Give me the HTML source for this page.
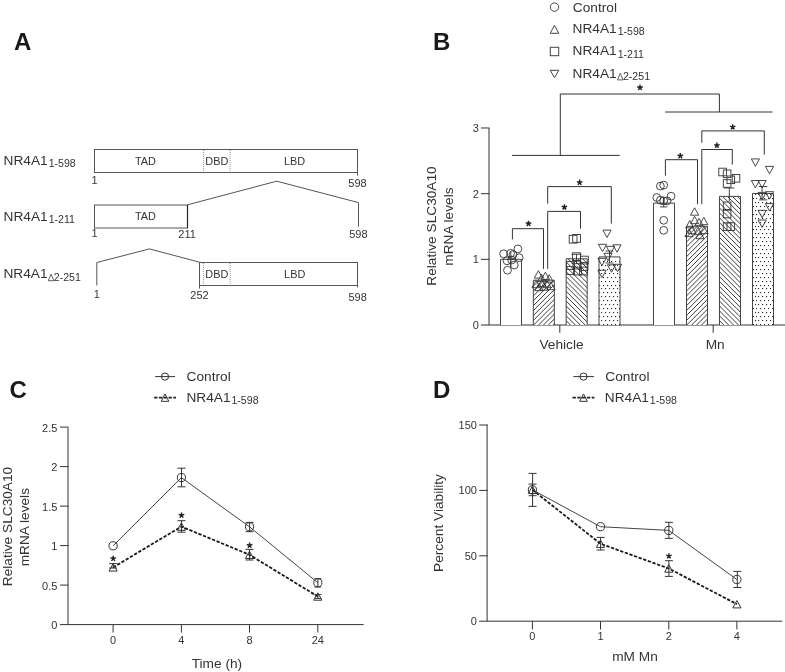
<!DOCTYPE html>
<html><head><meta charset="utf-8"><style>
html,body{margin:0;padding:0;background:#fff;}
svg{display:block;filter:grayscale(1);}

</style></head><body>
<svg width="785" height="672" viewBox="0 0 785 672" font-family='"Liberation Sans", sans-serif'>
<defs></defs>
<rect x="0" y="0" width="785" height="672" fill="#fff"/>
<text x="14.00" y="50.00" font-size="24" text-anchor="start" font-weight="bold" fill="#1a1a1a" >A</text>
<text x="3.60" y="164.70" font-size="13.7" fill="#333">NR4A1</text>
<text x="48.66" y="166.90" font-size="10.6" fill="#333">1-598</text>
<text x="3.60" y="221.00" font-size="13.7" fill="#333">NR4A1</text>
<text x="48.66" y="223.20" font-size="10.6" fill="#333">1-211</text>
<text x="3.40" y="278.40" font-size="13.7" fill="#333">NR4A1</text>
<polygon points="48.26,280.70 53.86,280.70 51.06,274.10" fill="none" stroke="#444" stroke-width="0.85"/>
<text x="53.76" y="280.60" font-size="10.6" fill="#333">2-251</text>
<rect x="94.5" y="149.5" width="263" height="23" fill="none" stroke="#555" stroke-width="1"/>
<line x1="203.60" y1="150.00" x2="203.60" y2="172.00" stroke="#888" stroke-width="0.9" stroke-dasharray="1 1"/>
<line x1="230.10" y1="150.00" x2="230.10" y2="172.00" stroke="#888" stroke-width="0.9" stroke-dasharray="1 1"/>
<line x1="357.50" y1="172.50" x2="357.50" y2="175.50" stroke="#555" stroke-width="1" />
<text x="145.40" y="164.50" font-size="10.9" text-anchor="middle" font-weight="normal" fill="#333" >TAD</text>
<text x="216.80" y="164.50" font-size="10.9" text-anchor="middle" font-weight="normal" fill="#333" >DBD</text>
<text x="294.60" y="164.50" font-size="10.9" text-anchor="middle" font-weight="normal" fill="#333" >LBD</text>
<text x="94.50" y="184.00" font-size="11" text-anchor="middle" font-weight="normal" fill="#333" >1</text>
<text x="357.50" y="187.40" font-size="11" text-anchor="middle" font-weight="normal" fill="#333" >598</text>
<rect x="94.5" y="205" width="93" height="23" fill="none" stroke="#555" stroke-width="1"/>
<line x1="187.50" y1="205.00" x2="187.50" y2="228.00" stroke="#222" stroke-width="1.2" />
<text x="145.40" y="219.80" font-size="10.9" text-anchor="middle" font-weight="normal" fill="#333" >TAD</text>
<polyline points="187.50,204.80 276.70,181.20 358.50,202.60 358.50,226.70" fill="none" stroke="#555" stroke-width="1" stroke-linejoin="miter" />
<text x="94.50" y="237.30" font-size="11" text-anchor="middle" font-weight="normal" fill="#333" >1</text>
<text x="187.10" y="237.60" font-size="11" text-anchor="middle" font-weight="normal" fill="#333" >211</text>
<text x="358.40" y="238.40" font-size="11" text-anchor="middle" font-weight="normal" fill="#333" >598</text>
<polyline points="96.80,285.50 96.80,262.50 149.50,248.90 199.50,262.20" fill="none" stroke="#555" stroke-width="1" stroke-linejoin="miter" />
<rect x="199.5" y="262.5" width="158" height="23" fill="none" stroke="#555" stroke-width="1"/>
<line x1="199.50" y1="285.50" x2="199.50" y2="288.60" stroke="#555" stroke-width="1" />
<line x1="357.50" y1="285.50" x2="357.50" y2="287.50" stroke="#555" stroke-width="1" />
<line x1="203.40" y1="263.00" x2="203.40" y2="285.00" stroke="#888" stroke-width="0.9" stroke-dasharray="1 1"/>
<line x1="230.20" y1="263.00" x2="230.20" y2="285.00" stroke="#888" stroke-width="0.9" stroke-dasharray="1 1"/>
<text x="216.80" y="277.60" font-size="10.9" text-anchor="middle" font-weight="normal" fill="#333" >DBD</text>
<text x="294.70" y="277.70" font-size="10.9" text-anchor="middle" font-weight="normal" fill="#333" >LBD</text>
<text x="96.90" y="298.30" font-size="11" text-anchor="middle" font-weight="normal" fill="#333" >1</text>
<text x="199.50" y="298.60" font-size="11" text-anchor="middle" font-weight="normal" fill="#333" >252</text>
<text x="357.60" y="300.60" font-size="11" text-anchor="middle" font-weight="normal" fill="#333" >598</text>
<text x="433.00" y="50.00" font-size="24" text-anchor="start" font-weight="bold" fill="#1a1a1a" >B</text>
<circle cx="554.50" cy="7.10" r="4.2" fill="none" stroke="#444" stroke-width="1.0"/>
<polygon points="550.20,33.30 558.80,33.30 554.50,25.30" fill="none" stroke="#444" stroke-width="1.0" stroke-linejoin="miter"/>
<rect x="550.30" y="47.30" width="8.4" height="8.4" fill="none" stroke="#444" stroke-width="1.0"/>
<polygon points="550.20,70.30 558.80,70.30 554.50,77.70" fill="none" stroke="#444" stroke-width="1.0" stroke-linejoin="miter"/>
<text x="572.80" y="11.60" font-size="13.7" text-anchor="start" font-weight="normal" fill="#333" >Control</text>
<text x="572.60" y="33.00" font-size="13.7" fill="#333">NR4A1</text>
<text x="617.66" y="35.20" font-size="10.6" fill="#333">1-598</text>
<text x="572.60" y="55.30" font-size="13.7" fill="#333">NR4A1</text>
<text x="617.66" y="57.50" font-size="10.6" fill="#333">1-211</text>
<text x="572.60" y="77.60" font-size="13.7" fill="#333">NR4A1</text>
<polygon points="617.46,79.90 623.06,79.90 620.26,73.30" fill="none" stroke="#444" stroke-width="0.85"/>
<text x="622.96" y="79.80" font-size="10.6" fill="#333">2-251</text>
<line x1="489.00" y1="128.00" x2="489.00" y2="325.00" stroke="#333" stroke-width="1.0" />
<text x="478.80" y="328.95" font-size="11" text-anchor="end" font-weight="normal" fill="#333" >0</text>
<line x1="481.00" y1="259.33" x2="489.50" y2="259.33" stroke="#333" stroke-width="1.0" />
<text x="478.80" y="263.28" font-size="11" text-anchor="end" font-weight="normal" fill="#333" >1</text>
<line x1="481.00" y1="193.66" x2="489.50" y2="193.66" stroke="#333" stroke-width="1.0" />
<text x="478.80" y="197.61" font-size="11" text-anchor="end" font-weight="normal" fill="#333" >2</text>
<line x1="481.00" y1="127.99" x2="489.50" y2="127.99" stroke="#333" stroke-width="1.0" />
<text x="478.80" y="131.94" font-size="11" text-anchor="end" font-weight="normal" fill="#333" >3</text>
<line x1="481.00" y1="325.00" x2="785.00" y2="325.00" stroke="#333" stroke-width="1.0" />
<text transform="translate(435.7,226.0) rotate(-90)" font-size="13.7" text-anchor="middle" fill="#333">Relative SLC30A10</text>
<text transform="translate(453.4,226.6) rotate(-90)" font-size="13.7" text-anchor="middle" fill="#333">mRNA levels</text>
<line x1="559.80" y1="325.00" x2="559.80" y2="332.80" stroke="#333" stroke-width="1.0" />
<line x1="713.20" y1="325.00" x2="713.20" y2="332.80" stroke="#333" stroke-width="1.0" />
<text x="561.50" y="348.60" font-size="13.7" text-anchor="middle" font-weight="normal" fill="#333" >Vehicle</text>
<text x="715.20" y="348.60" font-size="13.7" text-anchor="middle" font-weight="normal" fill="#333" >Mn</text>
<clipPath id="c0"><rect x="500.50" y="259.30" width="21" height="65.70"/></clipPath>
<rect x="500.50" y="259.30" width="21" height="65.70" fill="#fff"/>
<polyline points="500.50,325.00 500.50,259.30 521.50,259.30 521.50,325.00" fill="none" stroke="#444" stroke-width="1.0" stroke-linejoin="miter" />
<clipPath id="c1"><rect x="533.33" y="280.20" width="21" height="44.80"/></clipPath>
<rect x="533.33" y="280.20" width="21" height="44.80" fill="#fff"/>
<path clip-path="url(#c1)" d="M460.13,325.00L506.93,278.20M465.03,325.00L511.83,278.20M469.93,325.00L516.73,278.20M474.83,325.00L521.63,278.20M479.73,325.00L526.53,278.20M484.63,325.00L531.43,278.20M489.53,325.00L536.33,278.20M494.43,325.00L541.23,278.20M499.33,325.00L546.13,278.20M504.23,325.00L551.03,278.20M509.13,325.00L555.93,278.20M514.03,325.00L560.83,278.20M518.93,325.00L565.73,278.20M523.83,325.00L570.63,278.20M528.73,325.00L575.53,278.20M533.63,325.00L580.43,278.20M538.53,325.00L585.33,278.20M543.43,325.00L590.23,278.20M548.33,325.00L595.13,278.20M553.23,325.00L600.03,278.20M558.13,325.00L604.93,278.20M563.03,325.00L609.83,278.20M567.93,325.00L614.73,278.20" stroke="#1a1a1a" stroke-width="0.85" fill="none"/>
<polyline points="533.33,325.00 533.33,280.20 554.33,280.20 554.33,325.00" fill="none" stroke="#444" stroke-width="1.0" stroke-linejoin="miter" />
<clipPath id="c2"><rect x="566.17" y="258.80" width="21" height="66.20"/></clipPath>
<rect x="566.17" y="258.80" width="21" height="66.20" fill="#fff"/>
<path clip-path="url(#c2)" d="M531.27,325.00L463.07,256.80M536.17,325.00L467.97,256.80M541.07,325.00L472.87,256.80M545.97,325.00L477.77,256.80M550.87,325.00L482.67,256.80M555.77,325.00L487.57,256.80M560.67,325.00L492.47,256.80M565.57,325.00L497.37,256.80M570.47,325.00L502.27,256.80M575.37,325.00L507.17,256.80M580.27,325.00L512.07,256.80M585.17,325.00L516.97,256.80M590.07,325.00L521.87,256.80M594.97,325.00L526.77,256.80M599.87,325.00L531.67,256.80M604.77,325.00L536.57,256.80M609.67,325.00L541.47,256.80M614.57,325.00L546.37,256.80M619.47,325.00L551.27,256.80M624.37,325.00L556.17,256.80M629.27,325.00L561.07,256.80M634.17,325.00L565.97,256.80M639.07,325.00L570.87,256.80M643.97,325.00L575.77,256.80M648.87,325.00L580.67,256.80M653.77,325.00L585.57,256.80M658.67,325.00L590.47,256.80M663.57,325.00L595.37,256.80M668.47,325.00L600.27,256.80" stroke="#1a1a1a" stroke-width="0.85" fill="none"/>
<polyline points="566.17,325.00 566.17,258.80 587.17,258.80 587.17,325.00" fill="none" stroke="#444" stroke-width="1.0" stroke-linejoin="miter" />
<clipPath id="c3"><rect x="599.00" y="256.90" width="21" height="68.10"/></clipPath>
<rect x="599.00" y="256.90" width="21" height="68.10" fill="#fff"/>
<g fill="#2a2a2a"><rect x="599" y="261" width="1.1" height="1.1"/><rect x="603" y="261" width="1.1" height="1.1"/><rect x="607" y="261" width="1.1" height="1.1"/><rect x="611" y="261" width="1.1" height="1.1"/><rect x="615" y="261" width="1.1" height="1.1"/><rect x="619" y="261" width="1.1" height="1.1"/><rect x="601" y="265" width="1.1" height="1.1"/><rect x="605" y="265" width="1.1" height="1.1"/><rect x="609" y="265" width="1.1" height="1.1"/><rect x="613" y="265" width="1.1" height="1.1"/><rect x="617" y="265" width="1.1" height="1.1"/><rect x="599" y="269" width="1.1" height="1.1"/><rect x="603" y="269" width="1.1" height="1.1"/><rect x="607" y="269" width="1.1" height="1.1"/><rect x="611" y="269" width="1.1" height="1.1"/><rect x="615" y="269" width="1.1" height="1.1"/><rect x="619" y="269" width="1.1" height="1.1"/><rect x="601" y="273" width="1.1" height="1.1"/><rect x="605" y="273" width="1.1" height="1.1"/><rect x="609" y="273" width="1.1" height="1.1"/><rect x="613" y="273" width="1.1" height="1.1"/><rect x="617" y="273" width="1.1" height="1.1"/><rect x="599" y="277" width="1.1" height="1.1"/><rect x="603" y="277" width="1.1" height="1.1"/><rect x="607" y="277" width="1.1" height="1.1"/><rect x="611" y="277" width="1.1" height="1.1"/><rect x="615" y="277" width="1.1" height="1.1"/><rect x="619" y="277" width="1.1" height="1.1"/><rect x="601" y="281" width="1.1" height="1.1"/><rect x="605" y="281" width="1.1" height="1.1"/><rect x="609" y="281" width="1.1" height="1.1"/><rect x="613" y="281" width="1.1" height="1.1"/><rect x="617" y="281" width="1.1" height="1.1"/><rect x="599" y="285" width="1.1" height="1.1"/><rect x="603" y="285" width="1.1" height="1.1"/><rect x="607" y="285" width="1.1" height="1.1"/><rect x="611" y="285" width="1.1" height="1.1"/><rect x="615" y="285" width="1.1" height="1.1"/><rect x="619" y="285" width="1.1" height="1.1"/><rect x="601" y="288" width="1.1" height="1.1"/><rect x="605" y="288" width="1.1" height="1.1"/><rect x="609" y="288" width="1.1" height="1.1"/><rect x="613" y="288" width="1.1" height="1.1"/><rect x="617" y="288" width="1.1" height="1.1"/><rect x="599" y="292" width="1.1" height="1.1"/><rect x="603" y="292" width="1.1" height="1.1"/><rect x="607" y="292" width="1.1" height="1.1"/><rect x="611" y="292" width="1.1" height="1.1"/><rect x="615" y="292" width="1.1" height="1.1"/><rect x="619" y="292" width="1.1" height="1.1"/><rect x="601" y="296" width="1.1" height="1.1"/><rect x="605" y="296" width="1.1" height="1.1"/><rect x="609" y="296" width="1.1" height="1.1"/><rect x="613" y="296" width="1.1" height="1.1"/><rect x="617" y="296" width="1.1" height="1.1"/><rect x="599" y="300" width="1.1" height="1.1"/><rect x="603" y="300" width="1.1" height="1.1"/><rect x="607" y="300" width="1.1" height="1.1"/><rect x="611" y="300" width="1.1" height="1.1"/><rect x="615" y="300" width="1.1" height="1.1"/><rect x="619" y="300" width="1.1" height="1.1"/><rect x="601" y="304" width="1.1" height="1.1"/><rect x="605" y="304" width="1.1" height="1.1"/><rect x="609" y="304" width="1.1" height="1.1"/><rect x="613" y="304" width="1.1" height="1.1"/><rect x="617" y="304" width="1.1" height="1.1"/><rect x="599" y="308" width="1.1" height="1.1"/><rect x="603" y="308" width="1.1" height="1.1"/><rect x="607" y="308" width="1.1" height="1.1"/><rect x="611" y="308" width="1.1" height="1.1"/><rect x="615" y="308" width="1.1" height="1.1"/><rect x="619" y="308" width="1.1" height="1.1"/><rect x="601" y="312" width="1.1" height="1.1"/><rect x="605" y="312" width="1.1" height="1.1"/><rect x="609" y="312" width="1.1" height="1.1"/><rect x="613" y="312" width="1.1" height="1.1"/><rect x="617" y="312" width="1.1" height="1.1"/><rect x="599" y="316" width="1.1" height="1.1"/><rect x="603" y="316" width="1.1" height="1.1"/><rect x="607" y="316" width="1.1" height="1.1"/><rect x="611" y="316" width="1.1" height="1.1"/><rect x="615" y="316" width="1.1" height="1.1"/><rect x="619" y="316" width="1.1" height="1.1"/><rect x="601" y="320" width="1.1" height="1.1"/><rect x="605" y="320" width="1.1" height="1.1"/><rect x="609" y="320" width="1.1" height="1.1"/><rect x="613" y="320" width="1.1" height="1.1"/><rect x="617" y="320" width="1.1" height="1.1"/><rect x="599" y="324" width="1.1" height="1.1"/><rect x="603" y="324" width="1.1" height="1.1"/><rect x="607" y="324" width="1.1" height="1.1"/><rect x="611" y="324" width="1.1" height="1.1"/><rect x="615" y="324" width="1.1" height="1.1"/><rect x="619" y="324" width="1.1" height="1.1"/></g>
<polyline points="599.00,325.00 599.00,256.90 620.00,256.90 620.00,325.00" fill="none" stroke="#444" stroke-width="1.0" stroke-linejoin="miter" />
<clipPath id="c4"><rect x="653.50" y="203.10" width="21" height="121.90"/></clipPath>
<rect x="653.50" y="203.10" width="21" height="121.90" fill="#fff"/>
<polyline points="653.50,325.00 653.50,203.10 674.50,203.10 674.50,325.00" fill="none" stroke="#444" stroke-width="1.0" stroke-linejoin="miter" />
<clipPath id="c5"><rect x="686.50" y="226.30" width="21" height="98.70"/></clipPath>
<rect x="686.50" y="226.30" width="21" height="98.70" fill="#fff"/>
<path clip-path="url(#c5)" d="M559.40,325.00L660.10,224.30M564.30,325.00L665.00,224.30M569.20,325.00L669.90,224.30M574.10,325.00L674.80,224.30M579.00,325.00L679.70,224.30M583.90,325.00L684.60,224.30M588.80,325.00L689.50,224.30M593.70,325.00L694.40,224.30M598.60,325.00L699.30,224.30M603.50,325.00L704.20,224.30M608.40,325.00L709.10,224.30M613.30,325.00L714.00,224.30M618.20,325.00L718.90,224.30M623.10,325.00L723.80,224.30M628.00,325.00L728.70,224.30M632.90,325.00L733.60,224.30M637.80,325.00L738.50,224.30M642.70,325.00L743.40,224.30M647.60,325.00L748.30,224.30M652.50,325.00L753.20,224.30M657.40,325.00L758.10,224.30M662.30,325.00L763.00,224.30M667.20,325.00L767.90,224.30M672.10,325.00L772.80,224.30M677.00,325.00L777.70,224.30M681.90,325.00L782.60,224.30M686.80,325.00L787.50,224.30M691.70,325.00L792.40,224.30M696.60,325.00L797.30,224.30M701.50,325.00L802.20,224.30M706.40,325.00L807.10,224.30M711.30,325.00L812.00,224.30M716.20,325.00L816.90,224.30M721.10,325.00L821.80,224.30" stroke="#1a1a1a" stroke-width="0.85" fill="none"/>
<polyline points="686.50,325.00 686.50,226.30 707.50,226.30 707.50,325.00" fill="none" stroke="#444" stroke-width="1.0" stroke-linejoin="miter" />
<clipPath id="c6"><rect x="719.50" y="196.40" width="21" height="128.60"/></clipPath>
<rect x="719.50" y="196.40" width="21" height="128.60" fill="#fff"/>
<path clip-path="url(#c6)" d="M684.60,325.00L554.00,194.40M689.50,325.00L558.90,194.40M694.40,325.00L563.80,194.40M699.30,325.00L568.70,194.40M704.20,325.00L573.60,194.40M709.10,325.00L578.50,194.40M714.00,325.00L583.40,194.40M718.90,325.00L588.30,194.40M723.80,325.00L593.20,194.40M728.70,325.00L598.10,194.40M733.60,325.00L603.00,194.40M738.50,325.00L607.90,194.40M743.40,325.00L612.80,194.40M748.30,325.00L617.70,194.40M753.20,325.00L622.60,194.40M758.10,325.00L627.50,194.40M763.00,325.00L632.40,194.40M767.90,325.00L637.30,194.40M772.80,325.00L642.20,194.40M777.70,325.00L647.10,194.40M782.60,325.00L652.00,194.40M787.50,325.00L656.90,194.40M792.40,325.00L661.80,194.40M797.30,325.00L666.70,194.40M802.20,325.00L671.60,194.40M807.10,325.00L676.50,194.40M812.00,325.00L681.40,194.40M816.90,325.00L686.30,194.40M821.80,325.00L691.20,194.40M826.70,325.00L696.10,194.40M831.60,325.00L701.00,194.40M836.50,325.00L705.90,194.40M841.40,325.00L710.80,194.40M846.30,325.00L715.70,194.40M851.20,325.00L720.60,194.40M856.10,325.00L725.50,194.40M861.00,325.00L730.40,194.40M865.90,325.00L735.30,194.40M870.80,325.00L740.20,194.40M875.70,325.00L745.10,194.40M880.60,325.00L750.00,194.40M885.50,325.00L754.90,194.40" stroke="#1a1a1a" stroke-width="0.85" fill="none"/>
<polyline points="719.50,325.00 719.50,196.40 740.50,196.40 740.50,325.00" fill="none" stroke="#444" stroke-width="1.0" stroke-linejoin="miter" />
<clipPath id="c7"><rect x="752.50" y="193.50" width="21" height="131.50"/></clipPath>
<rect x="752.50" y="193.50" width="21" height="131.50" fill="#fff"/>
<g fill="#2a2a2a"><rect x="755" y="194" width="1.1" height="1.1"/><rect x="758" y="194" width="1.1" height="1.1"/><rect x="762" y="194" width="1.1" height="1.1"/><rect x="766" y="194" width="1.1" height="1.1"/><rect x="770" y="194" width="1.1" height="1.1"/><rect x="753" y="198" width="1.1" height="1.1"/><rect x="756" y="198" width="1.1" height="1.1"/><rect x="760" y="198" width="1.1" height="1.1"/><rect x="764" y="198" width="1.1" height="1.1"/><rect x="768" y="198" width="1.1" height="1.1"/><rect x="772" y="198" width="1.1" height="1.1"/><rect x="755" y="202" width="1.1" height="1.1"/><rect x="758" y="202" width="1.1" height="1.1"/><rect x="762" y="202" width="1.1" height="1.1"/><rect x="766" y="202" width="1.1" height="1.1"/><rect x="770" y="202" width="1.1" height="1.1"/><rect x="753" y="206" width="1.1" height="1.1"/><rect x="756" y="206" width="1.1" height="1.1"/><rect x="760" y="206" width="1.1" height="1.1"/><rect x="764" y="206" width="1.1" height="1.1"/><rect x="768" y="206" width="1.1" height="1.1"/><rect x="772" y="206" width="1.1" height="1.1"/><rect x="755" y="210" width="1.1" height="1.1"/><rect x="758" y="210" width="1.1" height="1.1"/><rect x="762" y="210" width="1.1" height="1.1"/><rect x="766" y="210" width="1.1" height="1.1"/><rect x="770" y="210" width="1.1" height="1.1"/><rect x="753" y="214" width="1.1" height="1.1"/><rect x="756" y="214" width="1.1" height="1.1"/><rect x="760" y="214" width="1.1" height="1.1"/><rect x="764" y="214" width="1.1" height="1.1"/><rect x="768" y="214" width="1.1" height="1.1"/><rect x="772" y="214" width="1.1" height="1.1"/><rect x="755" y="218" width="1.1" height="1.1"/><rect x="758" y="218" width="1.1" height="1.1"/><rect x="762" y="218" width="1.1" height="1.1"/><rect x="766" y="218" width="1.1" height="1.1"/><rect x="770" y="218" width="1.1" height="1.1"/><rect x="753" y="222" width="1.1" height="1.1"/><rect x="756" y="222" width="1.1" height="1.1"/><rect x="760" y="222" width="1.1" height="1.1"/><rect x="764" y="222" width="1.1" height="1.1"/><rect x="768" y="222" width="1.1" height="1.1"/><rect x="772" y="222" width="1.1" height="1.1"/><rect x="755" y="226" width="1.1" height="1.1"/><rect x="758" y="226" width="1.1" height="1.1"/><rect x="762" y="226" width="1.1" height="1.1"/><rect x="766" y="226" width="1.1" height="1.1"/><rect x="770" y="226" width="1.1" height="1.1"/><rect x="753" y="229" width="1.1" height="1.1"/><rect x="756" y="229" width="1.1" height="1.1"/><rect x="760" y="229" width="1.1" height="1.1"/><rect x="764" y="229" width="1.1" height="1.1"/><rect x="768" y="229" width="1.1" height="1.1"/><rect x="772" y="229" width="1.1" height="1.1"/><rect x="755" y="233" width="1.1" height="1.1"/><rect x="758" y="233" width="1.1" height="1.1"/><rect x="762" y="233" width="1.1" height="1.1"/><rect x="766" y="233" width="1.1" height="1.1"/><rect x="770" y="233" width="1.1" height="1.1"/><rect x="753" y="237" width="1.1" height="1.1"/><rect x="756" y="237" width="1.1" height="1.1"/><rect x="760" y="237" width="1.1" height="1.1"/><rect x="764" y="237" width="1.1" height="1.1"/><rect x="768" y="237" width="1.1" height="1.1"/><rect x="772" y="237" width="1.1" height="1.1"/><rect x="755" y="241" width="1.1" height="1.1"/><rect x="758" y="241" width="1.1" height="1.1"/><rect x="762" y="241" width="1.1" height="1.1"/><rect x="766" y="241" width="1.1" height="1.1"/><rect x="770" y="241" width="1.1" height="1.1"/><rect x="753" y="245" width="1.1" height="1.1"/><rect x="756" y="245" width="1.1" height="1.1"/><rect x="760" y="245" width="1.1" height="1.1"/><rect x="764" y="245" width="1.1" height="1.1"/><rect x="768" y="245" width="1.1" height="1.1"/><rect x="772" y="245" width="1.1" height="1.1"/><rect x="755" y="249" width="1.1" height="1.1"/><rect x="758" y="249" width="1.1" height="1.1"/><rect x="762" y="249" width="1.1" height="1.1"/><rect x="766" y="249" width="1.1" height="1.1"/><rect x="770" y="249" width="1.1" height="1.1"/><rect x="753" y="253" width="1.1" height="1.1"/><rect x="756" y="253" width="1.1" height="1.1"/><rect x="760" y="253" width="1.1" height="1.1"/><rect x="764" y="253" width="1.1" height="1.1"/><rect x="768" y="253" width="1.1" height="1.1"/><rect x="772" y="253" width="1.1" height="1.1"/><rect x="755" y="257" width="1.1" height="1.1"/><rect x="758" y="257" width="1.1" height="1.1"/><rect x="762" y="257" width="1.1" height="1.1"/><rect x="766" y="257" width="1.1" height="1.1"/><rect x="770" y="257" width="1.1" height="1.1"/><rect x="753" y="261" width="1.1" height="1.1"/><rect x="756" y="261" width="1.1" height="1.1"/><rect x="760" y="261" width="1.1" height="1.1"/><rect x="764" y="261" width="1.1" height="1.1"/><rect x="768" y="261" width="1.1" height="1.1"/><rect x="772" y="261" width="1.1" height="1.1"/><rect x="755" y="265" width="1.1" height="1.1"/><rect x="758" y="265" width="1.1" height="1.1"/><rect x="762" y="265" width="1.1" height="1.1"/><rect x="766" y="265" width="1.1" height="1.1"/><rect x="770" y="265" width="1.1" height="1.1"/><rect x="753" y="269" width="1.1" height="1.1"/><rect x="756" y="269" width="1.1" height="1.1"/><rect x="760" y="269" width="1.1" height="1.1"/><rect x="764" y="269" width="1.1" height="1.1"/><rect x="768" y="269" width="1.1" height="1.1"/><rect x="772" y="269" width="1.1" height="1.1"/><rect x="755" y="273" width="1.1" height="1.1"/><rect x="758" y="273" width="1.1" height="1.1"/><rect x="762" y="273" width="1.1" height="1.1"/><rect x="766" y="273" width="1.1" height="1.1"/><rect x="770" y="273" width="1.1" height="1.1"/><rect x="753" y="277" width="1.1" height="1.1"/><rect x="756" y="277" width="1.1" height="1.1"/><rect x="760" y="277" width="1.1" height="1.1"/><rect x="764" y="277" width="1.1" height="1.1"/><rect x="768" y="277" width="1.1" height="1.1"/><rect x="772" y="277" width="1.1" height="1.1"/><rect x="755" y="281" width="1.1" height="1.1"/><rect x="758" y="281" width="1.1" height="1.1"/><rect x="762" y="281" width="1.1" height="1.1"/><rect x="766" y="281" width="1.1" height="1.1"/><rect x="770" y="281" width="1.1" height="1.1"/><rect x="753" y="285" width="1.1" height="1.1"/><rect x="756" y="285" width="1.1" height="1.1"/><rect x="760" y="285" width="1.1" height="1.1"/><rect x="764" y="285" width="1.1" height="1.1"/><rect x="768" y="285" width="1.1" height="1.1"/><rect x="772" y="285" width="1.1" height="1.1"/><rect x="755" y="288" width="1.1" height="1.1"/><rect x="758" y="288" width="1.1" height="1.1"/><rect x="762" y="288" width="1.1" height="1.1"/><rect x="766" y="288" width="1.1" height="1.1"/><rect x="770" y="288" width="1.1" height="1.1"/><rect x="753" y="292" width="1.1" height="1.1"/><rect x="756" y="292" width="1.1" height="1.1"/><rect x="760" y="292" width="1.1" height="1.1"/><rect x="764" y="292" width="1.1" height="1.1"/><rect x="768" y="292" width="1.1" height="1.1"/><rect x="772" y="292" width="1.1" height="1.1"/><rect x="755" y="296" width="1.1" height="1.1"/><rect x="758" y="296" width="1.1" height="1.1"/><rect x="762" y="296" width="1.1" height="1.1"/><rect x="766" y="296" width="1.1" height="1.1"/><rect x="770" y="296" width="1.1" height="1.1"/><rect x="753" y="300" width="1.1" height="1.1"/><rect x="756" y="300" width="1.1" height="1.1"/><rect x="760" y="300" width="1.1" height="1.1"/><rect x="764" y="300" width="1.1" height="1.1"/><rect x="768" y="300" width="1.1" height="1.1"/><rect x="772" y="300" width="1.1" height="1.1"/><rect x="755" y="304" width="1.1" height="1.1"/><rect x="758" y="304" width="1.1" height="1.1"/><rect x="762" y="304" width="1.1" height="1.1"/><rect x="766" y="304" width="1.1" height="1.1"/><rect x="770" y="304" width="1.1" height="1.1"/><rect x="753" y="308" width="1.1" height="1.1"/><rect x="756" y="308" width="1.1" height="1.1"/><rect x="760" y="308" width="1.1" height="1.1"/><rect x="764" y="308" width="1.1" height="1.1"/><rect x="768" y="308" width="1.1" height="1.1"/><rect x="772" y="308" width="1.1" height="1.1"/><rect x="755" y="312" width="1.1" height="1.1"/><rect x="758" y="312" width="1.1" height="1.1"/><rect x="762" y="312" width="1.1" height="1.1"/><rect x="766" y="312" width="1.1" height="1.1"/><rect x="770" y="312" width="1.1" height="1.1"/><rect x="753" y="316" width="1.1" height="1.1"/><rect x="756" y="316" width="1.1" height="1.1"/><rect x="760" y="316" width="1.1" height="1.1"/><rect x="764" y="316" width="1.1" height="1.1"/><rect x="768" y="316" width="1.1" height="1.1"/><rect x="772" y="316" width="1.1" height="1.1"/><rect x="755" y="320" width="1.1" height="1.1"/><rect x="758" y="320" width="1.1" height="1.1"/><rect x="762" y="320" width="1.1" height="1.1"/><rect x="766" y="320" width="1.1" height="1.1"/><rect x="770" y="320" width="1.1" height="1.1"/><rect x="753" y="324" width="1.1" height="1.1"/><rect x="756" y="324" width="1.1" height="1.1"/><rect x="760" y="324" width="1.1" height="1.1"/><rect x="764" y="324" width="1.1" height="1.1"/><rect x="768" y="324" width="1.1" height="1.1"/><rect x="772" y="324" width="1.1" height="1.1"/></g>
<polyline points="752.50,325.00 752.50,193.50 773.50,193.50 773.50,325.00" fill="none" stroke="#444" stroke-width="1.0" stroke-linejoin="miter" />
<circle cx="517.90" cy="248.90" r="3.9" fill="none" stroke="#333" stroke-width="0.9"/>
<circle cx="503.60" cy="253.80" r="3.9" fill="none" stroke="#333" stroke-width="0.9"/>
<circle cx="510.60" cy="253.30" r="3.9" fill="none" stroke="#333" stroke-width="0.9"/>
<circle cx="513.00" cy="254.60" r="3.9" fill="none" stroke="#333" stroke-width="0.9"/>
<circle cx="519.20" cy="257.70" r="3.9" fill="none" stroke="#333" stroke-width="0.9"/>
<circle cx="507.00" cy="260.80" r="3.9" fill="none" stroke="#333" stroke-width="0.9"/>
<circle cx="514.30" cy="265.00" r="3.9" fill="none" stroke="#333" stroke-width="0.9"/>
<circle cx="507.50" cy="270.20" r="3.9" fill="none" stroke="#333" stroke-width="0.9"/>
<circle cx="511.70" cy="260.00" r="3.9" fill="none" stroke="#333" stroke-width="0.9"/>
<line x1="510.80" y1="252.00" x2="510.80" y2="267.00" stroke="#333" stroke-width="0.9" />
<line x1="507.00" y1="259.30" x2="514.60" y2="259.30" stroke="#333" stroke-width="0.9" />
<polygon points="534.30,278.10 542.50,278.10 538.40,270.70" fill="none" stroke="#333" stroke-width="0.9" stroke-linejoin="miter"/>
<polygon points="541.30,279.60 549.50,279.60 545.40,272.20" fill="none" stroke="#333" stroke-width="0.9" stroke-linejoin="miter"/>
<polygon points="545.10,282.10 553.30,282.10 549.20,274.70" fill="none" stroke="#333" stroke-width="0.9" stroke-linejoin="miter"/>
<polygon points="537.40,281.70 545.60,281.70 541.50,274.30" fill="none" stroke="#333" stroke-width="0.9" stroke-linejoin="miter"/>
<polygon points="531.90,287.70 540.10,287.70 536.00,280.30" fill="none" stroke="#333" stroke-width="0.9" stroke-linejoin="miter"/>
<polygon points="537.90,286.70 546.10,286.70 542.00,279.30" fill="none" stroke="#333" stroke-width="0.9" stroke-linejoin="miter"/>
<polygon points="542.90,287.70 551.10,287.70 547.00,280.30" fill="none" stroke="#333" stroke-width="0.9" stroke-linejoin="miter"/>
<polygon points="546.90,289.70 555.10,289.70 551.00,282.30" fill="none" stroke="#333" stroke-width="0.9" stroke-linejoin="miter"/>
<polygon points="534.90,290.70 543.10,290.70 539.00,283.30" fill="none" stroke="#333" stroke-width="0.9" stroke-linejoin="miter"/>
<polygon points="539.90,290.20 548.10,290.20 544.00,282.80" fill="none" stroke="#333" stroke-width="0.9" stroke-linejoin="miter"/>
<rect x="569.20" y="235.30" width="7.8" height="7.8" fill="none" stroke="#333" stroke-width="0.9"/>
<rect x="572.70" y="234.50" width="7.8" height="7.8" fill="none" stroke="#333" stroke-width="0.9"/>
<rect x="572.60" y="252.80" width="7.8" height="7.8" fill="none" stroke="#333" stroke-width="0.9"/>
<rect x="580.50" y="256.20" width="7.8" height="7.8" fill="none" stroke="#333" stroke-width="0.9"/>
<rect x="566.60" y="261.60" width="7.8" height="7.8" fill="none" stroke="#333" stroke-width="0.9"/>
<rect x="573.10" y="261.10" width="7.8" height="7.8" fill="none" stroke="#333" stroke-width="0.9"/>
<rect x="580.10" y="262.60" width="7.8" height="7.8" fill="none" stroke="#333" stroke-width="0.9"/>
<rect x="566.60" y="266.60" width="7.8" height="7.8" fill="none" stroke="#333" stroke-width="0.9"/>
<rect x="573.60" y="267.10" width="7.8" height="7.8" fill="none" stroke="#333" stroke-width="0.9"/>
<rect x="579.60" y="267.10" width="7.8" height="7.8" fill="none" stroke="#333" stroke-width="0.9"/>
<line x1="576.50" y1="254.30" x2="576.50" y2="264.00" stroke="#333" stroke-width="0.9" />
<line x1="571.50" y1="254.30" x2="581.50" y2="254.30" stroke="#333" stroke-width="0.9" />
<line x1="571.50" y1="263.70" x2="581.50" y2="263.70" stroke="#333" stroke-width="0.9" />
<polygon points="602.90,230.10 611.10,230.10 607.00,237.50" fill="none" stroke="#333" stroke-width="0.9" stroke-linejoin="miter"/>
<polygon points="598.40,244.30 606.60,244.30 602.50,251.70" fill="none" stroke="#333" stroke-width="0.9" stroke-linejoin="miter"/>
<polygon points="612.90,244.80 621.10,244.80 617.00,252.20" fill="none" stroke="#333" stroke-width="0.9" stroke-linejoin="miter"/>
<polygon points="606.40,246.30 614.60,246.30 610.50,253.70" fill="none" stroke="#333" stroke-width="0.9" stroke-linejoin="miter"/>
<polygon points="603.90,253.30 612.10,253.30 608.00,260.70" fill="none" stroke="#333" stroke-width="0.9" stroke-linejoin="miter"/>
<polygon points="597.90,258.30 606.10,258.30 602.00,265.70" fill="none" stroke="#333" stroke-width="0.9" stroke-linejoin="miter"/>
<polygon points="607.40,264.80 615.60,264.80 611.50,272.20" fill="none" stroke="#333" stroke-width="0.9" stroke-linejoin="miter"/>
<polygon points="613.40,264.30 621.60,264.30 617.50,271.70" fill="none" stroke="#333" stroke-width="0.9" stroke-linejoin="miter"/>
<polygon points="597.90,270.30 606.10,270.30 602.00,277.70" fill="none" stroke="#333" stroke-width="0.9" stroke-linejoin="miter"/>
<line x1="609.50" y1="251.00" x2="609.50" y2="263.00" stroke="#333" stroke-width="0.9" />
<line x1="605.50" y1="251.00" x2="613.50" y2="251.00" stroke="#333" stroke-width="0.9" />
<line x1="605.50" y1="263.00" x2="613.50" y2="263.00" stroke="#333" stroke-width="0.9" />
<circle cx="660.40" cy="186.10" r="3.9" fill="none" stroke="#333" stroke-width="0.9"/>
<circle cx="663.70" cy="185.10" r="3.9" fill="none" stroke="#333" stroke-width="0.9"/>
<circle cx="656.80" cy="197.50" r="3.9" fill="none" stroke="#333" stroke-width="0.9"/>
<circle cx="671.10" cy="196.20" r="3.9" fill="none" stroke="#333" stroke-width="0.9"/>
<circle cx="660.40" cy="200.20" r="3.9" fill="none" stroke="#333" stroke-width="0.9"/>
<circle cx="663.70" cy="200.90" r="3.9" fill="none" stroke="#333" stroke-width="0.9"/>
<circle cx="667.10" cy="200.90" r="3.9" fill="none" stroke="#333" stroke-width="0.9"/>
<circle cx="663.70" cy="220.30" r="3.9" fill="none" stroke="#333" stroke-width="0.9"/>
<circle cx="663.70" cy="230.30" r="3.9" fill="none" stroke="#333" stroke-width="0.9"/>
<line x1="663.70" y1="197.00" x2="663.70" y2="207.00" stroke="#333" stroke-width="0.9" />
<line x1="660.00" y1="206.90" x2="667.40" y2="206.90" stroke="#333" stroke-width="0.9" />
<polygon points="690.50,215.20 698.70,215.20 694.60,207.80" fill="none" stroke="#333" stroke-width="0.9" stroke-linejoin="miter"/>
<polygon points="690.50,223.70 698.70,223.70 694.60,216.30" fill="none" stroke="#333" stroke-width="0.9" stroke-linejoin="miter"/>
<polygon points="685.70,227.90 693.90,227.90 689.80,220.50" fill="none" stroke="#333" stroke-width="0.9" stroke-linejoin="miter"/>
<polygon points="694.90,225.70 703.10,225.70 699.00,218.30" fill="none" stroke="#333" stroke-width="0.9" stroke-linejoin="miter"/>
<polygon points="699.70,224.70 707.90,224.70 703.80,217.30" fill="none" stroke="#333" stroke-width="0.9" stroke-linejoin="miter"/>
<polygon points="687.90,233.70 696.10,233.70 692.00,226.30" fill="none" stroke="#333" stroke-width="0.9" stroke-linejoin="miter"/>
<polygon points="693.90,234.70 702.10,234.70 698.00,227.30" fill="none" stroke="#333" stroke-width="0.9" stroke-linejoin="miter"/>
<polygon points="699.90,233.70 708.10,233.70 704.00,226.30" fill="none" stroke="#333" stroke-width="0.9" stroke-linejoin="miter"/>
<polygon points="684.90,236.70 693.10,236.70 689.00,229.30" fill="none" stroke="#333" stroke-width="0.9" stroke-linejoin="miter"/>
<polygon points="695.90,238.70 704.10,238.70 700.00,231.30" fill="none" stroke="#333" stroke-width="0.9" stroke-linejoin="miter"/>
<rect x="718.80" y="168.20" width="7.6" height="7.6" fill="none" stroke="#333" stroke-width="0.9"/>
<rect x="723.30" y="170.00" width="7.6" height="7.6" fill="none" stroke="#333" stroke-width="0.9"/>
<rect x="732.20" y="174.50" width="7.6" height="7.6" fill="none" stroke="#333" stroke-width="0.9"/>
<rect x="727.00" y="176.00" width="7.6" height="7.6" fill="none" stroke="#333" stroke-width="0.9"/>
<rect x="723.30" y="179.70" width="7.6" height="7.6" fill="none" stroke="#333" stroke-width="0.9"/>
<rect x="723.30" y="202.00" width="7.6" height="7.6" fill="none" stroke="#333" stroke-width="0.9"/>
<rect x="723.30" y="210.20" width="7.6" height="7.6" fill="none" stroke="#333" stroke-width="0.9"/>
<rect x="723.30" y="222.80" width="7.6" height="7.6" fill="none" stroke="#333" stroke-width="0.9"/>
<rect x="727.00" y="222.80" width="7.6" height="7.6" fill="none" stroke="#333" stroke-width="0.9"/>
<line x1="729.30" y1="188.00" x2="729.30" y2="201.00" stroke="#333" stroke-width="0.9" />
<line x1="724.00" y1="188.00" x2="734.50" y2="188.00" stroke="#333" stroke-width="0.9" />
<polygon points="751.30,158.90 759.50,158.90 755.40,166.30" fill="none" stroke="#333" stroke-width="0.9" stroke-linejoin="miter"/>
<polygon points="765.40,166.40 773.60,166.40 769.50,173.80" fill="none" stroke="#333" stroke-width="0.9" stroke-linejoin="miter"/>
<polygon points="751.30,180.50 759.50,180.50 755.40,187.90" fill="none" stroke="#333" stroke-width="0.9" stroke-linejoin="miter"/>
<polygon points="758.00,180.50 766.20,180.50 762.10,187.90" fill="none" stroke="#333" stroke-width="0.9" stroke-linejoin="miter"/>
<polygon points="765.40,191.70 773.60,191.70 769.50,199.10" fill="none" stroke="#333" stroke-width="0.9" stroke-linejoin="miter"/>
<polygon points="758.00,192.40 766.20,192.40 762.10,199.80" fill="none" stroke="#333" stroke-width="0.9" stroke-linejoin="miter"/>
<polygon points="765.40,203.60 773.60,203.60 769.50,211.00" fill="none" stroke="#333" stroke-width="0.9" stroke-linejoin="miter"/>
<polygon points="758.00,210.30 766.20,210.30 762.10,217.70" fill="none" stroke="#333" stroke-width="0.9" stroke-linejoin="miter"/>
<polygon points="758.00,220.00 766.20,220.00 762.10,227.40" fill="none" stroke="#333" stroke-width="0.9" stroke-linejoin="miter"/>
<line x1="762.10" y1="186.50" x2="762.10" y2="199.90" stroke="#333" stroke-width="0.9" />
<line x1="759.00" y1="186.50" x2="767.30" y2="186.50" stroke="#333" stroke-width="0.9" />
<line x1="759.00" y1="199.90" x2="767.30" y2="199.90" stroke="#333" stroke-width="0.9" />
<polyline points="560.30,155.40 560.30,94.00 719.40,94.00 719.40,112.00" fill="none" stroke="#333" stroke-width="1.0" stroke-linejoin="miter" />
<line x1="512.10" y1="155.40" x2="619.80" y2="155.40" stroke="#333" stroke-width="1.0" />
<line x1="665.10" y1="112.00" x2="772.50" y2="112.00" stroke="#333" stroke-width="1.0" />
<path d="M640.00,87.68L640.00,84.78M640.00,87.68L642.76,86.78M640.00,87.68L641.70,90.02M640.00,87.68L638.30,90.02M640.00,87.68L637.24,86.78" stroke="#222" stroke-width="1.45" stroke-linecap="butt" fill="none"/>
<polyline points="512.40,239.40 512.40,228.70 543.50,228.70 543.50,268.90" fill="none" stroke="#333" stroke-width="1.0" stroke-linejoin="miter" />
<path d="M528.50,223.68L528.50,220.78M528.50,223.68L531.26,222.78M528.50,223.68L530.20,226.02M528.50,223.68L526.80,226.02M528.50,223.68L525.74,222.78" stroke="#222" stroke-width="1.45" stroke-linecap="butt" fill="none"/>
<polyline points="547.70,268.90 547.70,211.40 580.50,211.40 580.50,228.70" fill="none" stroke="#333" stroke-width="1.0" stroke-linejoin="miter" />
<path d="M564.40,207.18L564.40,204.28M564.40,207.18L567.16,206.28M564.40,207.18L566.10,209.52M564.40,207.18L562.70,209.52M564.40,207.18L561.64,206.28" stroke="#222" stroke-width="1.45" stroke-linecap="butt" fill="none"/>
<polyline points="547.70,203.60 547.70,186.60 611.30,186.60 611.30,223.60" fill="none" stroke="#333" stroke-width="1.0" stroke-linejoin="miter" />
<path d="M579.60,182.48L579.60,179.58M579.60,182.48L582.36,181.58M579.60,182.48L581.30,184.82M579.60,182.48L577.90,184.82M579.60,182.48L576.84,181.58" stroke="#222" stroke-width="1.45" stroke-linecap="butt" fill="none"/>
<polyline points="665.40,175.70 665.40,159.70 697.50,159.70 697.50,204.20" fill="none" stroke="#333" stroke-width="1.0" stroke-linejoin="miter" />
<path d="M680.30,155.88L680.30,152.98M680.30,155.88L683.06,154.98M680.30,155.88L682.00,158.22M680.30,155.88L678.60,158.22M680.30,155.88L677.54,154.98" stroke="#222" stroke-width="1.45" stroke-linecap="butt" fill="none"/>
<polyline points="701.80,204.20 701.80,149.50 732.30,149.50 732.30,164.50" fill="none" stroke="#333" stroke-width="1.0" stroke-linejoin="miter" />
<path d="M716.90,145.48L716.90,142.58M716.90,145.48L719.66,144.58M716.90,145.48L718.60,147.82M716.90,145.48L715.20,147.82M716.90,145.48L714.14,144.58" stroke="#222" stroke-width="1.45" stroke-linecap="butt" fill="none"/>
<polyline points="701.80,142.80 701.80,130.90 764.30,130.90 764.30,154.60" fill="none" stroke="#333" stroke-width="1.0" stroke-linejoin="miter" />
<path d="M732.70,127.08L732.70,124.18M732.70,127.08L735.46,126.18M732.70,127.08L734.40,129.42M732.70,127.08L731.00,129.42M732.70,127.08L729.94,126.18" stroke="#222" stroke-width="1.45" stroke-linecap="butt" fill="none"/>
<text x="9.50" y="397.60" font-size="24" text-anchor="start" font-weight="bold" fill="#1a1a1a" >C</text>
<line x1="68.00" y1="427.40" x2="68.00" y2="624.60" stroke="#333" stroke-width="1.0" />
<text x="57.40" y="629.05" font-size="11" text-anchor="end" font-weight="normal" fill="#333" >0</text>
<line x1="60.00" y1="585.10" x2="68.50" y2="585.10" stroke="#333" stroke-width="1.0" />
<text x="57.40" y="589.55" font-size="11" text-anchor="end" font-weight="normal" fill="#333" >0.5</text>
<line x1="60.00" y1="545.60" x2="68.50" y2="545.60" stroke="#333" stroke-width="1.0" />
<text x="57.40" y="550.05" font-size="11" text-anchor="end" font-weight="normal" fill="#333" >1</text>
<line x1="60.00" y1="506.10" x2="68.50" y2="506.10" stroke="#333" stroke-width="1.0" />
<text x="57.40" y="510.55" font-size="11" text-anchor="end" font-weight="normal" fill="#333" >1.5</text>
<line x1="60.00" y1="466.60" x2="68.50" y2="466.60" stroke="#333" stroke-width="1.0" />
<text x="57.40" y="471.05" font-size="11" text-anchor="end" font-weight="normal" fill="#333" >2</text>
<line x1="60.00" y1="427.10" x2="68.50" y2="427.10" stroke="#333" stroke-width="1.0" />
<text x="57.40" y="431.55" font-size="11" text-anchor="end" font-weight="normal" fill="#333" >2.5</text>
<line x1="60.00" y1="624.60" x2="363.70" y2="624.60" stroke="#333" stroke-width="1.0" />
<line x1="113.10" y1="624.60" x2="113.10" y2="632.50" stroke="#333" stroke-width="1.0" />
<text x="113.10" y="643.80" font-size="11" text-anchor="middle" font-weight="normal" fill="#333" >0</text>
<line x1="181.40" y1="624.60" x2="181.40" y2="632.50" stroke="#333" stroke-width="1.0" />
<text x="181.40" y="643.80" font-size="11" text-anchor="middle" font-weight="normal" fill="#333" >4</text>
<line x1="249.50" y1="624.60" x2="249.50" y2="632.50" stroke="#333" stroke-width="1.0" />
<text x="249.50" y="643.80" font-size="11" text-anchor="middle" font-weight="normal" fill="#333" >8</text>
<line x1="317.80" y1="624.60" x2="317.80" y2="632.50" stroke="#333" stroke-width="1.0" />
<text x="317.80" y="643.80" font-size="11" text-anchor="middle" font-weight="normal" fill="#333" >24</text>
<text x="216.90" y="667.50" font-size="13.7" text-anchor="middle" font-weight="normal" fill="#333" >Time (h)</text>
<text transform="translate(11.8,526.5) rotate(-90)" font-size="13.7" text-anchor="middle" fill="#333">Relative SLC30A10</text>
<text transform="translate(29.0,527.2) rotate(-90)" font-size="13.7" text-anchor="middle" fill="#333">mRNA levels</text>
<line x1="155.20" y1="376.60" x2="175.10" y2="376.60" stroke="#333" stroke-width="1.0" />
<circle cx="165.00" cy="376.60" r="3.6" fill="none" stroke="#333" stroke-width="1.0"/>
<text x="186.60" y="381.00" font-size="13.7" text-anchor="start" font-weight="normal" fill="#333" >Control</text>
<line x1="154.10" y1="397.70" x2="176.00" y2="397.70" stroke="#222" stroke-width="1.8" stroke-dasharray="3.4 1.4"/>
<polygon points="161.20,401.30 168.80,401.30 165.00,393.90" fill="none" stroke="#333" stroke-width="1.0" stroke-linejoin="miter"/>
<text x="186.40" y="401.90" font-size="13.7" fill="#333">NR4A1</text>
<text x="231.46" y="403.90" font-size="10.6" fill="#333">1-598</text>
<polyline points="113.10,545.80 181.40,477.60 249.50,526.80 317.80,582.70" fill="none" stroke="#444" stroke-width="1.0" stroke-linejoin="miter" />
<polyline points="113.10,567.40 181.40,526.60 249.50,554.80 317.80,596.50" fill="none" stroke="#1a1a1a" stroke-width="1.8" stroke-linejoin="miter" stroke-dasharray="3.3 1.6"/>
<circle cx="113.10" cy="545.80" r="4.1" fill="none" stroke="#333" stroke-width="1.0"/>
<circle cx="181.40" cy="477.60" r="4.1" fill="none" stroke="#333" stroke-width="1.0"/>
<circle cx="249.50" cy="526.80" r="4.1" fill="none" stroke="#333" stroke-width="1.0"/>
<circle cx="317.80" cy="582.70" r="4.1" fill="none" stroke="#333" stroke-width="1.0"/>
<polygon points="109.00,571.10 117.20,571.10 113.10,563.70" fill="none" stroke="#333" stroke-width="1.0" stroke-linejoin="miter"/>
<polygon points="177.30,530.30 185.50,530.30 181.40,522.90" fill="none" stroke="#333" stroke-width="1.0" stroke-linejoin="miter"/>
<polygon points="245.40,558.50 253.60,558.50 249.50,551.10" fill="none" stroke="#333" stroke-width="1.0" stroke-linejoin="miter"/>
<polygon points="313.70,600.20 321.90,600.20 317.80,592.80" fill="none" stroke="#333" stroke-width="1.0" stroke-linejoin="miter"/>
<line x1="181.50" y1="468.20" x2="181.50" y2="486.80" stroke="#333" stroke-width="1.0" />
<line x1="177.50" y1="468.20" x2="185.50" y2="468.20" stroke="#333" stroke-width="1.0" />
<line x1="177.50" y1="486.80" x2="185.50" y2="486.80" stroke="#333" stroke-width="1.0" />
<line x1="249.60" y1="522.40" x2="249.60" y2="531.70" stroke="#333" stroke-width="1.0" />
<line x1="245.60" y1="522.40" x2="253.60" y2="522.40" stroke="#333" stroke-width="1.0" />
<line x1="245.60" y1="531.70" x2="253.60" y2="531.70" stroke="#333" stroke-width="1.0" />
<line x1="181.50" y1="520.70" x2="181.50" y2="532.20" stroke="#333" stroke-width="1.0" />
<line x1="177.50" y1="520.70" x2="185.50" y2="520.70" stroke="#333" stroke-width="1.0" />
<line x1="177.50" y1="532.20" x2="185.50" y2="532.20" stroke="#333" stroke-width="1.0" />
<line x1="249.50" y1="549.40" x2="249.50" y2="560.00" stroke="#333" stroke-width="1.0" />
<line x1="245.50" y1="549.40" x2="253.50" y2="549.40" stroke="#333" stroke-width="1.0" />
<line x1="245.50" y1="560.00" x2="253.50" y2="560.00" stroke="#333" stroke-width="1.0" />
<line x1="113.20" y1="563.60" x2="113.20" y2="568.00" stroke="#333" stroke-width="1.0" />
<line x1="109.20" y1="563.60" x2="117.20" y2="563.60" stroke="#333" stroke-width="1.0" />
<line x1="109.20" y1="568.00" x2="117.20" y2="568.00" stroke="#333" stroke-width="1.0" />
<line x1="317.90" y1="578.70" x2="317.90" y2="587.00" stroke="#333" stroke-width="1.0" />
<line x1="314.40" y1="578.70" x2="321.40" y2="578.70" stroke="#333" stroke-width="1.0" />
<line x1="314.40" y1="587.00" x2="321.40" y2="587.00" stroke="#333" stroke-width="1.0" />
<line x1="317.90" y1="594.60" x2="317.90" y2="598.40" stroke="#333" stroke-width="1.0" />
<line x1="314.40" y1="594.60" x2="321.40" y2="594.60" stroke="#333" stroke-width="1.0" />
<line x1="314.40" y1="598.40" x2="321.40" y2="598.40" stroke="#333" stroke-width="1.0" />
<path d="M113.20,558.58L113.20,555.68M113.20,558.58L115.96,557.68M113.20,558.58L114.90,560.92M113.20,558.58L111.50,560.92M113.20,558.58L110.44,557.68" stroke="#222" stroke-width="1.45" stroke-linecap="butt" fill="none"/>
<path d="M181.50,515.28L181.50,512.38M181.50,515.28L184.26,514.38M181.50,515.28L183.20,517.62M181.50,515.28L179.80,517.62M181.50,515.28L178.74,514.38" stroke="#222" stroke-width="1.45" stroke-linecap="butt" fill="none"/>
<path d="M249.60,545.38L249.60,542.48M249.60,545.38L252.36,544.48M249.60,545.38L251.30,547.72M249.60,545.38L247.90,547.72M249.60,545.38L246.84,544.48" stroke="#222" stroke-width="1.45" stroke-linecap="butt" fill="none"/>
<text x="433.00" y="397.60" font-size="24" text-anchor="start" font-weight="bold" fill="#1a1a1a" >D</text>
<line x1="487.10" y1="424.60" x2="487.10" y2="621.20" stroke="#333" stroke-width="1.0" />
<text x="476.90" y="625.15" font-size="11" text-anchor="end" font-weight="normal" fill="#333" >0</text>
<line x1="479.20" y1="555.80" x2="487.60" y2="555.80" stroke="#333" stroke-width="1.0" />
<text x="476.90" y="559.75" font-size="11" text-anchor="end" font-weight="normal" fill="#333" >50</text>
<line x1="479.20" y1="490.40" x2="487.60" y2="490.40" stroke="#333" stroke-width="1.0" />
<text x="476.90" y="494.35" font-size="11" text-anchor="end" font-weight="normal" fill="#333" >100</text>
<line x1="479.20" y1="425.00" x2="487.60" y2="425.00" stroke="#333" stroke-width="1.0" />
<text x="476.90" y="428.95" font-size="11" text-anchor="end" font-weight="normal" fill="#333" >150</text>
<line x1="479.20" y1="621.20" x2="782.30" y2="621.20" stroke="#333" stroke-width="1.0" />
<line x1="532.40" y1="621.20" x2="532.40" y2="629.50" stroke="#333" stroke-width="1.0" />
<text x="532.40" y="640.00" font-size="11" text-anchor="middle" font-weight="normal" fill="#333" >0</text>
<line x1="600.50" y1="621.20" x2="600.50" y2="629.50" stroke="#333" stroke-width="1.0" />
<text x="600.50" y="640.00" font-size="11" text-anchor="middle" font-weight="normal" fill="#333" >1</text>
<line x1="668.80" y1="621.20" x2="668.80" y2="629.50" stroke="#333" stroke-width="1.0" />
<text x="668.80" y="640.00" font-size="11" text-anchor="middle" font-weight="normal" fill="#333" >2</text>
<line x1="736.90" y1="621.20" x2="736.90" y2="629.50" stroke="#333" stroke-width="1.0" />
<text x="736.90" y="640.00" font-size="11" text-anchor="middle" font-weight="normal" fill="#333" >4</text>
<text x="635.00" y="661.00" font-size="13.7" text-anchor="middle" font-weight="normal" fill="#333" >mM Mn</text>
<text transform="translate(443.0,523) rotate(-90)" font-size="13.7" text-anchor="middle" fill="#333">Percent Viability</text>
<line x1="573.40" y1="376.60" x2="593.90" y2="376.60" stroke="#333" stroke-width="1.0" />
<circle cx="583.50" cy="376.60" r="3.6" fill="none" stroke="#333" stroke-width="1.0"/>
<text x="605.30" y="381.00" font-size="13.7" text-anchor="start" font-weight="normal" fill="#333" >Control</text>
<line x1="572.50" y1="397.70" x2="594.40" y2="397.70" stroke="#222" stroke-width="1.8" stroke-dasharray="3.4 1.4"/>
<polygon points="579.70,401.30 587.30,401.30 583.50,393.90" fill="none" stroke="#333" stroke-width="1.0" stroke-linejoin="miter"/>
<text x="604.80" y="401.90" font-size="13.7" fill="#333">NR4A1</text>
<text x="649.86" y="403.90" font-size="10.6" fill="#333">1-598</text>
<polyline points="532.40,489.80 600.50,526.70 668.80,530.40 736.90,579.50" fill="none" stroke="#444" stroke-width="1.0" stroke-linejoin="miter" />
<polyline points="532.40,489.80 600.50,543.70 668.80,568.50 736.90,604.20" fill="none" stroke="#1a1a1a" stroke-width="1.8" stroke-linejoin="miter" stroke-dasharray="3.3 1.6"/>
<circle cx="532.40" cy="489.80" r="4.1" fill="none" stroke="#333" stroke-width="1.0"/>
<circle cx="600.50" cy="526.70" r="4.1" fill="none" stroke="#333" stroke-width="1.0"/>
<circle cx="668.80" cy="530.40" r="4.1" fill="none" stroke="#333" stroke-width="1.0"/>
<circle cx="736.90" cy="579.50" r="4.1" fill="none" stroke="#333" stroke-width="1.0"/>
<polygon points="528.30,493.50 536.50,493.50 532.40,486.10" fill="none" stroke="#333" stroke-width="1.0" stroke-linejoin="miter"/>
<polygon points="596.40,547.40 604.60,547.40 600.50,540.00" fill="none" stroke="#333" stroke-width="1.0" stroke-linejoin="miter"/>
<polygon points="664.70,572.20 672.90,572.20 668.80,564.80" fill="none" stroke="#333" stroke-width="1.0" stroke-linejoin="miter"/>
<polygon points="732.80,607.90 741.00,607.90 736.90,600.50" fill="none" stroke="#333" stroke-width="1.0" stroke-linejoin="miter"/>
<line x1="532.60" y1="473.40" x2="532.60" y2="506.40" stroke="#333" stroke-width="1.0" />
<line x1="528.60" y1="473.40" x2="536.60" y2="473.40" stroke="#333" stroke-width="1.0" />
<line x1="528.60" y1="506.40" x2="536.60" y2="506.40" stroke="#333" stroke-width="1.0" />
<line x1="532.60" y1="484.10" x2="532.60" y2="495.70" stroke="#333" stroke-width="1.0" />
<line x1="528.60" y1="484.10" x2="536.60" y2="484.10" stroke="#333" stroke-width="1.0" />
<line x1="528.60" y1="495.70" x2="536.60" y2="495.70" stroke="#333" stroke-width="1.0" />
<line x1="600.60" y1="537.40" x2="600.60" y2="550.00" stroke="#333" stroke-width="1.0" />
<line x1="596.60" y1="537.40" x2="604.60" y2="537.40" stroke="#333" stroke-width="1.0" />
<line x1="596.60" y1="550.00" x2="604.60" y2="550.00" stroke="#333" stroke-width="1.0" />
<line x1="668.90" y1="522.30" x2="668.90" y2="538.40" stroke="#333" stroke-width="1.0" />
<line x1="664.90" y1="522.30" x2="672.90" y2="522.30" stroke="#333" stroke-width="1.0" />
<line x1="664.90" y1="538.40" x2="672.90" y2="538.40" stroke="#333" stroke-width="1.0" />
<line x1="668.90" y1="560.70" x2="668.90" y2="576.40" stroke="#333" stroke-width="1.0" />
<line x1="664.90" y1="560.70" x2="672.90" y2="560.70" stroke="#333" stroke-width="1.0" />
<line x1="664.90" y1="576.40" x2="672.90" y2="576.40" stroke="#333" stroke-width="1.0" />
<line x1="737.30" y1="571.40" x2="737.30" y2="587.50" stroke="#333" stroke-width="1.0" />
<line x1="733.30" y1="571.40" x2="741.30" y2="571.40" stroke="#333" stroke-width="1.0" />
<line x1="733.30" y1="587.50" x2="741.30" y2="587.50" stroke="#333" stroke-width="1.0" />
<path d="M668.90,556.08L668.90,553.18M668.90,556.08L671.66,555.18M668.90,556.08L670.60,558.42M668.90,556.08L667.20,558.42M668.90,556.08L666.14,555.18" stroke="#222" stroke-width="1.45" stroke-linecap="butt" fill="none"/>
</svg>
</body></html>
